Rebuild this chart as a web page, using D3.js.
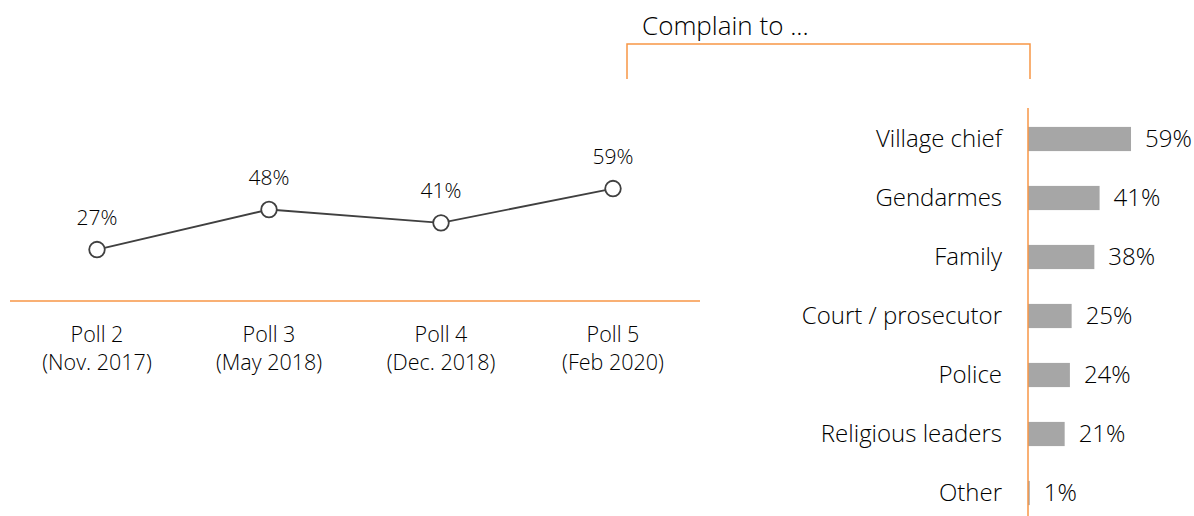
<!DOCTYPE html>
<html>
<head>
<meta charset="utf-8">
<script src="https://cdn.jsdelivr.net/npm/d3@7"></script>
<style>
  body { margin: 0; background: #fff; }
  svg text { font-family: "Open Sans", sans-serif; font-weight: 300; fill: #000; }
</style>
</head>
<body>
<div id="chart"></div>
<script>
// poll trend
var polls = ["Poll 2", "Poll 3", "Poll 4", "Poll 5"];
var pollDates = ["(Nov. 2017)", "(May 2018)", "(Dec. 2018)", "(Feb 2020)"];
var pollValues = [27, 48, 41, 59];

// complain to ...
var actors = ["Village chief", "Gendarmes", "Family", "Court / prosecutor", "Police", "Religious leaders", "Other"];
var actorValues = [59, 41, 38, 25, 24, 21, 1];

var orange = "#f79646";
var svgWidth = 1194, svgHeight = 516;

var svg = d3.select("#chart")
    .append("svg")
    .attr("width", svgWidth)
    .attr("height", svgHeight);

// ---- line chart on the left
var xPoll = d3.scaleBand()
    .domain(polls)
    .range([11, 699]);

var yPoll = d3.scaleLinear()
    .domain([0, 100])
    .range([301, 110.4]);

var lineGroup = svg.append("g");

lineGroup.append("line")
    .attr("x1", 10).attr("x2", 700)
    .attr("y1", yPoll(0)).attr("y2", yPoll(0))
    .attr("stroke", orange)
    .attr("stroke-width", 1.5);

var line = d3.line()
    .x(function(d, i) { return xPoll(polls[i]) + xPoll.bandwidth() / 2; })
    .y(function(d) { return yPoll(d); });

lineGroup.append("path")
    .datum(pollValues)
    .attr("d", line)
    .attr("fill", "none")
    .attr("stroke", "#404040")
    .attr("stroke-width", 1.8);

lineGroup.selectAll("circle")
    .data(pollValues)
    .enter()
    .append("circle")
    .attr("cx", function(d, i) { return xPoll(polls[i]) + xPoll.bandwidth() / 2; })
    .attr("cy", function(d) { return yPoll(d); })
    .attr("r", 7.8)
    .attr("fill", "#fff")
    .attr("stroke", "#404040")
    .attr("stroke-width", 1.8);

lineGroup.selectAll(".val")
    .data(pollValues)
    .enter()
    .append("text")
    .attr("class", "val")
    .attr("x", function(d, i) { return xPoll(polls[i]) + xPoll.bandwidth() / 2; })
    .attr("y", function(d) { return yPoll(d) - 25; })
    .attr("text-anchor", "middle")
    .attr("font-size", "21px")
    .text(function(d) { return d + "%"; });

var tick = lineGroup.selectAll(".tick")
    .data(polls)
    .enter()
    .append("text")
    .attr("class", "tick")
    .attr("text-anchor", "middle")
    .attr("font-size", "21.5px")
    .attr("x", function(d) { return xPoll(d) + xPoll.bandwidth() / 2; })
    .attr("y", 342);
tick.append("tspan").text(function(d) { return d; });
tick.append("tspan")
    .attr("x", function(d) { return xPoll(d) + xPoll.bandwidth() / 2; })
    .attr("dy", 28)
    .text(function(d, i) { return pollDates[i]; });

// ---- bar chart on the right
var xBar = d3.scaleLinear()
    .domain([0, 100])
    .range([1028, 1028 + 174.6]);

var yBar = d3.scaleBand()
    .domain(actors)
    .range([109.5, 522.5])
    .paddingInner(0.59)
    .paddingOuter(0.295);

var barGroup = svg.append("g");

barGroup.selectAll("rect")
    .data(actorValues)
    .enter()
    .append("rect")
    .attr("x", xBar(0))
    .attr("y", function(d, i) { return yBar(actors[i]); })
    .attr("width", function(d) { return xBar(d) - xBar(0); })
    .attr("height", yBar.bandwidth())
    .attr("fill", "#a6a6a6");

barGroup.selectAll(".barval")
    .data(actorValues)
    .enter()
    .append("text")
    .attr("class", "barval")
    .attr("x", function(d) { return xBar(d) + 14; })
    .attr("y", function(d, i) { return yBar(actors[i]) + yBar.bandwidth() / 2; })
    .attr("dy", "0.33em")
    .attr("font-size", "24px")
    .text(function(d) { return d + "%"; });

barGroup.selectAll(".cat")
    .data(actors)
    .enter()
    .append("text")
    .attr("class", "cat")
    .attr("x", 1002)
    .attr("y", function(d) { return yBar(d) + yBar.bandwidth() / 2; })
    .attr("dy", "0.33em")
    .attr("text-anchor", "end")
    .attr("font-size", "24px")
    .text(function(d) { return d; });

barGroup.append("line")
    .attr("x1", xBar(0)).attr("x2", xBar(0))
    .attr("y1", 108).attr("y2", svgHeight)
    .attr("stroke", orange)
    .attr("stroke-width", 1.5);

// bracket and title
svg.append("path")
    .attr("d", "M627,79 V44 H1030 V79")
    .attr("fill", "none")
    .attr("stroke", orange)
    .attr("stroke-width", 1.5);

svg.append("text")
    .attr("x", 642)
    .attr("y", 35)
    .attr("font-size", "26px")
    .text("Complain to ...");
</script>
</body>
</html>
